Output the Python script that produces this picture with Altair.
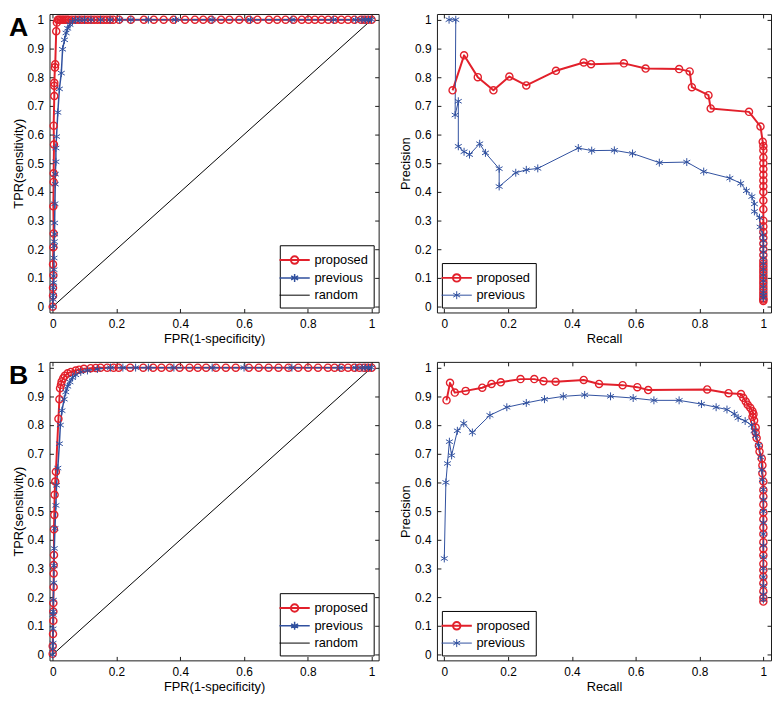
import altair as alt
import pandas as pd

RED = "#e2202b"
BLUE = "#30509f"
BLACK = "#000000"
FONT = "Liberation Sans"

# ---------------- data ----------------
# ROC, panel A : (FPR, TPR)
roc_a_proposed = [
    (0.0, 0.0), (0.001, 0.038), (0.001, 0.066), (0.002, 0.11), (0.001, 0.148),
    (0.002, 0.207), (0.003, 0.255), (0.002, 0.35), (0.003, 0.435), (0.003, 0.465),
    (0.004, 0.565), (0.003, 0.631), (0.005, 0.734), (0.005, 0.77), (0.005, 0.78),
    (0.007, 0.834), (0.008, 0.845), (0.011, 0.96), (0.013, 0.99),
    (0.016, 1.0), (0.02, 1.0), (0.025, 1.0), (0.03, 1.0), (0.035, 1.0), (0.04, 1.0),
    (0.045, 1.0), (0.05, 1.0), (0.06, 1.0), (0.07, 1.0), (0.08, 1.0), (0.09, 1.0),
    (0.10, 1.0), (0.11, 1.0), (0.12, 1.0), (0.13, 1.0), (0.14, 1.0), (0.15, 1.0),
    (0.16, 1.0), (0.17, 1.0), (0.18, 1.0), (0.19, 1.0), (0.208, 1.0), (0.245, 1.0),
    (0.286, 1.0), (0.317, 1.0), (0.348, 1.0), (0.379, 1.0), (0.415, 1.0), (0.446, 1.0),
    (0.472, 1.0), (0.497, 1.0), (0.528, 1.0), (0.554, 1.0), (0.585, 1.0), (0.616, 1.0),
    (0.642, 1.0), (0.678, 1.0), (0.704, 1.0), (0.730, 1.0), (0.755, 1.0), (0.781, 1.0),
    (0.802, 1.0), (0.822, 1.0), (0.843, 1.0), (0.864, 1.0), (0.884, 1.0), (0.905, 1.0),
    (0.926, 1.0), (0.946, 1.0), (0.967, 1.0), (0.977, 1.0), (0.988, 1.0), (1.0, 1.0),
]
roc_a_previous = [
    (0.0, 0.0), (0.001, 0.026), (0.002, 0.04), (0.002, 0.066), (0.003, 0.084),
    (0.003, 0.107), (0.004, 0.129), (0.004, 0.17), (0.005, 0.212), (0.005, 0.227),
    (0.006, 0.253), (0.006, 0.292), (0.007, 0.359), (0.008, 0.427), (0.008, 0.462),
    (0.010, 0.505), (0.010, 0.553), (0.012, 0.593), (0.016, 0.677), (0.021, 0.759),
    (0.027, 0.814), (0.031, 0.897), (0.037, 0.93), (0.042, 0.954), (0.047, 0.97),
    (0.054, 0.983), (0.062, 0.994), (0.072, 1.0), (0.085, 1.0), (0.10, 1.0),
    (0.12, 1.0), (0.15, 1.0), (0.18, 1.0), (0.21, 1.0), (0.245, 1.0), (0.30, 1.0),
    (0.385, 1.0), (0.50, 1.0), (0.62, 1.0), (0.75, 1.0), (0.88, 1.0), (0.95, 1.0),
    (0.97, 1.0), (0.98, 1.0), (0.99, 1.0), (1.0, 1.0),
]
# ROC, panel B
roc_b_proposed = [
    (0.0, 0.003), (0.0, 0.03), (0.001, 0.072), (0.002, 0.118), (0.002, 0.15),
    (0.002, 0.18), (0.003, 0.236), (0.003, 0.283), (0.003, 0.312), (0.004, 0.347),
    (0.004, 0.437), (0.005, 0.487), (0.006, 0.557), (0.008, 0.603), (0.01, 0.637),
    (0.018, 0.822), (0.021, 0.89), (0.023, 0.928), (0.026, 0.94), (0.028, 0.952),
    (0.033, 0.963), (0.038, 0.972), (0.047, 0.98), (0.057, 0.985), (0.072, 0.99),
    (0.083, 0.993), (0.098, 0.996), (0.119, 0.998), (0.135, 0.999), (0.15, 1.0),
    (0.171, 1.0), (0.191, 1.0), (0.207, 1.0), (0.243, 1.0), (0.284, 1.0), (0.315, 1.0),
    (0.341, 1.0), (0.367, 1.0), (0.398, 1.0), (0.429, 1.0), (0.455, 1.0), (0.481, 1.0),
    (0.512, 1.0), (0.543, 1.0), (0.574, 1.0), (0.615, 1.0), (0.646, 1.0), (0.677, 1.0),
    (0.708, 1.0), (0.739, 1.0), (0.770, 1.0), (0.801, 1.0), (0.832, 1.0), (0.863, 1.0),
    (0.884, 1.0), (0.905, 1.0), (0.926, 1.0), (0.946, 1.0), (0.962, 1.0), (0.977, 1.0),
    (0.988, 1.0), (1.0, 1.0),
]
roc_b_previous = [
    (0.0, 0.0), (0.0, 0.02), (0.001, 0.04), (0.001, 0.09), (0.001, 0.14), (0.002, 0.15),
    (0.002, 0.19), (0.003, 0.25), (0.004, 0.31), (0.005, 0.37), (0.007, 0.44),
    (0.01, 0.52), (0.012, 0.59), (0.016, 0.65), (0.021, 0.735), (0.024, 0.80),
    (0.029, 0.85), (0.036, 0.89), (0.041, 0.915), (0.047, 0.935), (0.054, 0.95),
    (0.062, 0.965), (0.072, 0.975), (0.088, 0.985), (0.109, 0.99), (0.14, 0.995),
    (0.181, 1.0), (0.22, 1.0), (0.26, 1.0), (0.30, 1.0), (0.38, 1.0), (0.50, 1.0),
    (0.60, 1.0), (0.75, 1.0), (0.90, 1.0), (0.95, 1.0), (0.97, 1.0), (0.98, 1.0),
    (0.99, 1.0), (1.0, 1.0),
]
random_line = [(0.0, 0.0), (1.0, 1.0)]

# Precision-recall, panel A : (Recall, Precision)
pr_a_proposed = [
    (0.026, 0.754), (0.062, 0.876), (0.105, 0.80), (0.154, 0.754), (0.204, 0.802),
    (0.257, 0.771), (0.35, 0.822), (0.437, 0.851), (0.46, 0.845), (0.563, 0.848),
    (0.631, 0.83), (0.736, 0.828), (0.769, 0.82), (0.776, 0.765), (0.828, 0.737),
    (0.835, 0.691), (0.955, 0.679), (0.991, 0.628), (0.998, 0.575), (1.0, 0.56),
    (1.0, 0.545), (1.0, 0.52), (1.0, 0.50), (1.0, 0.48), (1.0, 0.46), (1.0, 0.44),
    (1.0, 0.42), (1.0, 0.40), (1.0, 0.37), (1.0, 0.34), (1.0, 0.30), (1.0, 0.28),
    (1.0, 0.26), (1.0, 0.24), (1.0, 0.22), (1.0, 0.20), (1.0, 0.18), (1.0, 0.16),
    (1.0, 0.15), (1.0, 0.14), (1.0, 0.13), (1.0, 0.12), (1.0, 0.11), (1.0, 0.10),
    (1.0, 0.09), (1.0, 0.08), (1.0, 0.07), (1.0, 0.06), (1.0, 0.05), (1.0, 0.04),
    (1.0, 0.03), (1.0, 0.025), (1.0, 0.02),
]
pr_a_previous = [
    (0.015, 1.0), (0.036, 1.0), (0.034, 0.668), (0.044, 0.716), (0.044, 0.559),
    (0.062, 0.54), (0.079, 0.53), (0.111, 0.568), (0.129, 0.536), (0.172, 0.481),
    (0.172, 0.419), (0.224, 0.467), (0.257, 0.477), (0.293, 0.482), (0.42, 0.553),
    (0.462, 0.544), (0.533, 0.545), (0.59, 0.534), (0.674, 0.502), (0.76, 0.504),
    (0.813, 0.471), (0.895, 0.448), (0.929, 0.43), (0.947, 0.404), (0.964, 0.384),
    (0.972, 0.358), (0.972, 0.332), (0.988, 0.31), (0.99, 0.278), (0.998, 0.25),
    (1.0, 0.23), (1.0, 0.21), (1.0, 0.19), (1.0, 0.17), (1.0, 0.15), (1.0, 0.13),
    (1.0, 0.11), (1.0, 0.09), (1.0, 0.07), (1.0, 0.05), (1.0, 0.04), (1.0, 0.03),
]
# Precision-recall, panel B
pr_b_proposed = [
    (0.007, 0.886), (0.018, 0.947), (0.033, 0.913), (0.067, 0.919), (0.119, 0.93),
    (0.148, 0.943), (0.177, 0.949), (0.239, 0.96), (0.282, 0.96), (0.311, 0.953),
    (0.349, 0.951), (0.437, 0.957), (0.485, 0.943), (0.559, 0.939), (0.605, 0.932),
    (0.639, 0.922), (0.824, 0.924), (0.891, 0.911), (0.93, 0.908), (0.937, 0.895),
    (0.945, 0.882), (0.951, 0.871), (0.959, 0.86), (0.966, 0.848), (0.969, 0.838),
    (0.966, 0.829), (0.971, 0.816), (0.976, 0.791), (0.976, 0.774), (0.979, 0.755),
    (0.986, 0.728), (0.988, 0.708), (0.995, 0.683), (0.997, 0.66), (0.997, 0.632),
    (1.0, 0.603), (1.0, 0.574), (1.0, 0.551), (1.0, 0.523), (1.0, 0.495), (1.0, 0.472),
    (1.0, 0.443), (1.0, 0.42), (1.0, 0.392), (1.0, 0.369), (1.0, 0.346), (1.0, 0.317),
    (1.0, 0.295), (1.0, 0.272), (1.0, 0.249), (1.0, 0.221), (1.0, 0.198), (1.0, 0.185),
]
pr_b_previous = [
    (0.0, 0.335), (0.005, 0.6), (0.01, 0.666), (0.016, 0.742), (0.023, 0.694),
    (0.041, 0.78), (0.061, 0.806), (0.088, 0.774), (0.143, 0.834), (0.196, 0.862),
    (0.257, 0.877), (0.314, 0.89), (0.373, 0.9), (0.44, 0.905), (0.521, 0.9),
    (0.592, 0.894), (0.657, 0.886), (0.736, 0.886), (0.806, 0.873), (0.852, 0.862),
    (0.886, 0.854), (0.909, 0.839), (0.921, 0.825), (0.943, 0.814), (0.963, 0.8),
    (0.971, 0.78), (0.976, 0.763), (0.985, 0.73), (0.992, 0.688), (0.995, 0.643),
    (0.997, 0.609), (1.0, 0.575), (1.0, 0.54), (1.0, 0.5), (1.0, 0.46), (1.0, 0.42),
    (1.0, 0.38), (1.0, 0.34), (1.0, 0.3), (1.0, 0.27), (1.0, 0.24), (1.0, 0.21),
    (1.0, 0.192),
]

x_ticks = [0, 0.2, 0.4, 0.6, 0.8, 1]
y_ticks = [0, 0.1, 0.2, 0.3, 0.4, 0.5, 0.6, 0.7, 0.8, 0.9, 1]
series_names = ["proposed", "previous", "random"]

# ---------------- styling helpers ----------------
STAR = "M0,-1V1M-0.87,-0.5L0.87,0.5M-0.87,0.5L0.87,-0.5"
LEG_PROP = "M-1.7,0H1.7M-0.42,0A0.42,0.42 0 1,1 0.42,0A0.42,0.42 0 1,1 -0.42,0"
LEG_PREV = "M-1.7,0H1.7M0,-0.45V0.45M-0.39,-0.22L0.39,0.22M-0.39,0.22L0.39,-0.22"
LEG_RAND = "M-1.7,0H1.7"

H = 302
W_ROC, W_PR = 333, 338
TICK = 4
LABEL_SIZE = 12
TITLE_SIZE = 13


def frame(pairs, name):
    return pd.DataFrame({
        "x": [p[0] for p in pairs],
        "y": [p[1] for p in pairs],
        "s": name,
        "o": list(range(len(pairs))),
    })


def panel(prop, prev, xdom, ydom, xtitle, ytitle, with_random, legend_orient, letter, width):
    n = 3 if with_random else 2
    names = series_names[:n]
    colors = [RED, BLUE, BLACK][:n]
    widths = [2, 1, 0.8][:n]
    shapes = [LEG_PROP, LEG_PREV, LEG_RAND][:n]
    parts = [frame(prop, "proposed"), frame(prev, "previous")]
    if with_random:
        parts.append(frame(random_line, "random"))
    dl = pd.concat(parts, ignore_index=True)

    xs = alt.Scale(domain=xdom, nice=False, zero=False)
    ys = alt.Scale(domain=ydom, nice=False, zero=False)

    leg = alt.Legend(
        title=None, orient=legend_orient, offset=5,
        strokeColor="#000", fillColor="white", padding=5,
        labelFontSize=13, labelFont=FONT, labelColor="black",
        symbolSize=324, labelOffset=10, rowPadding=0,
    )

    # inward ticks: outward ticks on an axis pulled inside by a negative offset
    ax_b = alt.Axis(values=x_ticks, format="~g", title=xtitle, tickSize=TICK, offset=-TICK,
                    labelPadding=TICK + 2, titlePadding=3, minExtent=0)
    ax_l = alt.Axis(values=y_ticks, format="~g", title=ytitle, tickSize=TICK, offset=-TICK,
                    labelPadding=TICK + 2, titlePadding=2, minExtent=0)
    ax_t = alt.Axis(values=x_ticks, orient="top", labels=False, title=None,
                    tickSize=TICK, offset=-TICK, minExtent=0, maxExtent=0)
    ax_r = alt.Axis(values=y_ticks, orient="right", labels=False, title=None,
                    tickSize=TICK, offset=-TICK, minExtent=0, maxExtent=0)

    lines = alt.Chart(dl).mark_line(strokeJoin="round").encode(
        x=alt.X("x:Q", scale=xs, axis=ax_b),
        y=alt.Y("y:Q", scale=ys, axis=ax_l),
        color=alt.Color("s:N", scale=alt.Scale(domain=names, range=colors), legend=None),
        strokeWidth=alt.StrokeWidth("s:N", scale=alt.Scale(domain=names, range=widths), legend=None),
        order=alt.Order("o:Q"),
    )
    pts_prop = alt.Chart(frame(prop, "proposed")).mark_point(
        shape="circle", filled=False, size=52, strokeWidth=1.4, color=RED, opacity=1
    ).encode(
        x=alt.X("x:Q", scale=xs, axis=ax_t),
        y=alt.Y("y:Q", scale=ys, axis=ax_r),
    )
    pts_prev = alt.Chart(frame(prev, "previous")).mark_point(
        shape=STAR, filled=False, size=64, strokeWidth=1, color=BLUE, opacity=1
    ).encode(
        x=alt.X("x:Q", scale=xs, axis=None),
        y=alt.Y("y:Q", scale=ys, axis=None),
    )
    # legend-only layer (no rows survive the filter; the legend comes from the scales)
    key = alt.Chart(pd.DataFrame({"s": names})).transform_filter("false").mark_point(
        filled=False, size=324, opacity=1
    ).encode(
        color=alt.Color("s:N", scale=alt.Scale(domain=names, range=colors), legend=leg),
        shape=alt.Shape("s:N", scale=alt.Scale(domain=names, range=shapes), legend=leg),
        strokeWidth=alt.StrokeWidth("s:N", scale=alt.Scale(domain=names, range=widths), legend=leg),
    )
    layers = [lines, pts_prop, pts_prev, key]
    if letter:
        lab = alt.Chart(pd.DataFrame({"t": [letter]})).mark_text(
            align="left", baseline="top", fontSize=27, fontWeight="bold", font=FONT, color="black"
        ).encode(text="t:N", x=alt.value(-41), y=alt.value(1))
        layers.append(lab)
    return alt.layer(*layers).resolve_axis(x="independent", y="independent").resolve_scale(
        color="independent", strokeWidth="independent", shape="independent"
    ).properties(width=width, height=H)


roc_dom_x = [-0.01, 1.022]
roc_dom_y = [-0.02, 1.02]
pr_dom_x = [-0.023, 1.024]
pr_dom_y = [-0.02, 1.02]

a_roc = panel(roc_a_proposed, roc_a_previous, roc_dom_x, roc_dom_y,
              "FPR(1-specificity)", "TPR(sensitivity)", True, "bottom-right", "A", W_ROC)
a_pr = panel(pr_a_proposed, pr_a_previous, pr_dom_x, pr_dom_y,
             "Recall", "Precision", False, "bottom-left", None, W_PR)
b_roc = panel(roc_b_proposed, roc_b_previous, roc_dom_x, roc_dom_y,
              "FPR(1-specificity)", "TPR(sensitivity)", True, "bottom-right", "B", W_ROC)
b_pr = panel(pr_b_proposed, pr_b_previous, pr_dom_x, pr_dom_y,
             "Recall", "Precision", False, "bottom-left", None, W_PR)

RES = dict(color="independent", strokeWidth="independent", shape="independent")
chart = alt.vconcat(
    alt.hconcat(a_roc, a_pr, spacing=19).resolve_scale(**RES),
    alt.hconcat(b_roc, b_pr, spacing=19).resolve_scale(**RES),
    spacing=14,
).resolve_scale(**RES).properties(
    padding={"left": 0, "top": 0, "right": 0, "bottom": 0}
).configure(
    font=FONT,
).configure_view(
    stroke="#1a1a1a", strokeWidth=1,
).configure_axis(
    grid=False, domain=False, labelFont=FONT, titleFont=FONT,
    labelFontSize=LABEL_SIZE, titleFontSize=TITLE_SIZE, labelColor="black", titleColor="black",
    titleFontWeight="normal", tickColor="#1a1a1a", tickWidth=1,
)

chart.save("out.html", embed_options={"renderer": "svg", "actions": False})
